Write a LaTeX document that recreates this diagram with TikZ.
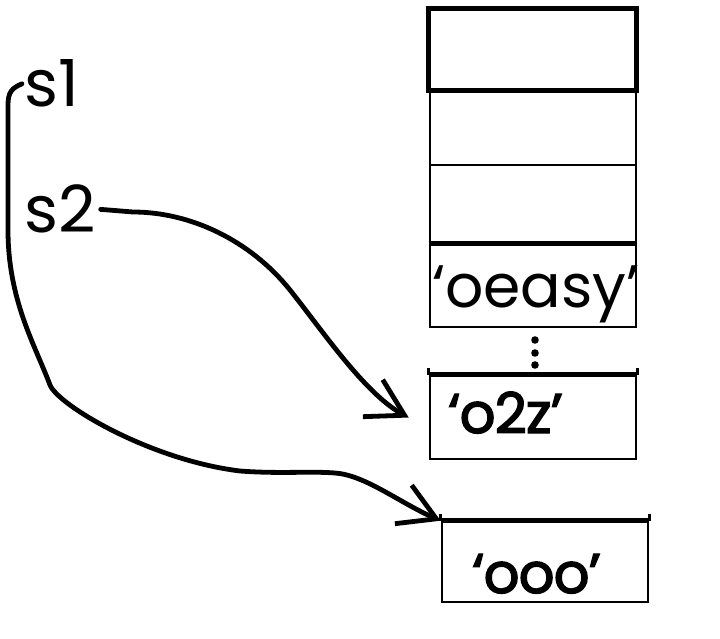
\documentclass[tikz,border=0pt]{standalone}
\usepackage{fontspec}
\setmainfont{Poppins}
\newfontfamily\heavyfont[FakeBold=2.5, LetterSpace=-1.5]{Poppins}
\usetikzlibrary{arrows.meta}

\begin{document}
\begin{tikzpicture}[x=1pt, y=-1pt,
    cell/.style={draw, line width=2.6pt, minimum width=206pt, inner sep=0pt},
    topline/.style={line width=5pt},
    word/.style={inner sep=0pt, anchor=base west, font=\fontsize{60}{60}\selectfont},
    label/.style={inner sep=0pt, anchor=base west, font=\fontsize{65}{65}\selectfont},
    strong/.style={inner sep=0pt, anchor=base west, font=\heavyfont\fontsize{56}{56}\selectfont},
    link/.style={line width=4.8pt, line cap=round, line join=round,
        -{Straight Barb[length=36pt, width=42pt, line width=4.8pt]}}]
      \useasboundingbox (0,0) rectangle (720,639);

      \node[cell, line width=5pt, minimum width=208pt, minimum height=82pt] (b1) at (532.5,50) {};
      \node[cell, minimum height=74pt] (b2) at (533,128) {};
      \node[cell, minimum height=80pt] (b3) at (533,205) {};
      \node[cell, minimum height=82pt] (b4) at (533,286) {};
      \node[cell, minimum height=83pt] (b5) at (533,417.5) {};
      \node[cell, minimum height=80pt] (b6) at (545,562) {};

      \draw[topline] (b4.north west) -- (b4.north east);
      \draw[topline] (b5.north west) -- (b5.north east);
      \draw[topline] (b6.north west) -- (b6.north east);
      \foreach \b in {b5, b6} {
          \draw[line width=2.6pt] ([yshift=7pt]\b.north west) -- (\b.north west);
          \draw[line width=2.6pt] ([yshift=7pt]\b.north east) -- (\b.north east);
      }

      \foreach \y in {340,353,365}
          \fill (535,\y) circle (3.8pt);

      \node[word] (w4) at (432,307) {‘oeasy’};
      \node[strong] (w5) at (448,433) {‘o2z’};
      \node[strong] (w6) at (472,593) {‘ooo’};

      \node[label] (s1) at (24,107) {s1};
      \node[label] (s2) at (24,233) {s2};

      \draw[link] ([xshift=5pt]s2.east) -- (133,212)
          .. controls (190,212) and (250,240) .. (290,290)
          .. controls (322,330) and (365,394) .. ([xshift=-20pt]b5.west);

      \draw[link] ([xshift=-2pt]s1.west) .. controls (12,88) and (8,92) .. (8,105) -- (8,230)
          .. controls (8,300) and (35,345) .. (50,385)
          .. controls (58,405) and (150,460) .. (240,471)
          .. controls (280,474) and (310,471) .. (335,473)
          .. controls (365,475) and (400,503) .. (b6.north west);
\end{tikzpicture}
\end{document}
